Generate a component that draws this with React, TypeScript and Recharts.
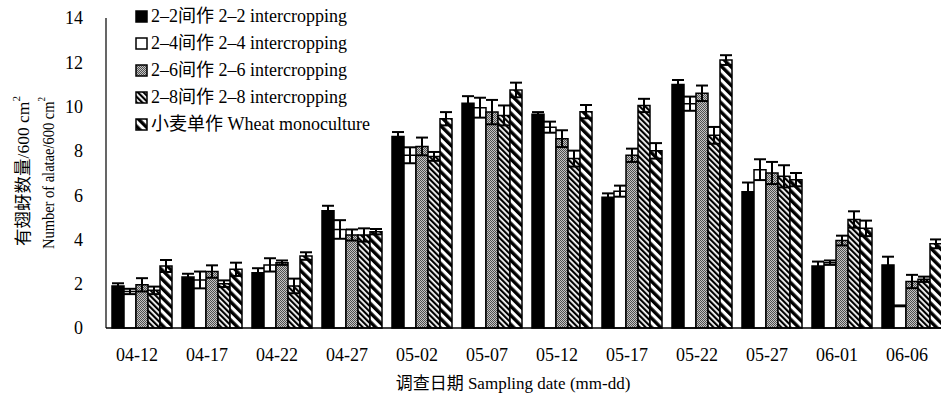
import React from 'react';
import { BarChart, Bar, XAxis, YAxis, ErrorBar, Legend } from 'recharts';

const FONT = "'Liberation Serif', 'Times New Roman', Times, 'DejaVu Serif', 'Noto Sans CJK SC', serif";

const dates = ['04-12', '04-17', '04-22', '04-27', '05-02', '05-07', '05-12', '05-17', '05-22', '05-27', '06-01', '06-06'];

const s22 = [1.9, 2.3, 2.5, 5.3, 8.65, 10.15, 9.65, 5.9, 11.0, 6.15, 2.8, 2.85];
const s22Err = [0.12, 0.15, 0.2, 0.22, 0.2, 0.32, 0.1, 0.18, 0.2, 0.42, 0.2, 0.37];
const s24 = [1.65, 2.17, 2.85, 4.45, 7.8, 9.95, 9.07, 6.18, 10.13, 7.15, 2.95, 1.0];
const s24Err = [0.12, 0.38, 0.3, 0.42, 0.36, 0.45, 0.25, 0.25, 0.32, 0.47, 0.1, 0.02];
const s26 = [1.95, 2.55, 2.95, 4.2, 8.2, 9.75, 8.55, 7.8, 10.6, 7.0, 3.95, 2.1];
const s26Err = [0.3, 0.28, 0.1, 0.25, 0.4, 0.55, 0.38, 0.3, 0.35, 0.5, 0.22, 0.3];
const s28 = [1.7, 2.0, 1.9, 4.2, 7.75, 9.6, 7.65, 10.05, 8.7, 6.85, 4.9, 2.2];
const s28Err = [0.17, 0.15, 0.33, 0.3, 0.2, 0.45, 0.36, 0.3, 0.38, 0.5, 0.37, 0.12];
const sW = [2.8, 2.65, 3.25, 4.35, 9.45, 10.75, 9.77, 8.0, 12.1, 6.7, 4.5, 3.8];
const sWErr = [0.27, 0.3, 0.17, 0.12, 0.3, 0.33, 0.3, 0.35, 0.22, 0.3, 0.35, 0.2];

const seriesNames = [
  '2–2间作 2–2 intercropping',
  '2–4间作 2–4 intercropping',
  '2–6间作 2–6 intercropping',
  '2–8间作 2–8 intercropping',
  '小麦单作 Wheat monoculture',
];

const yTicks = [0, 2, 4, 6, 8, 10, 12, 14];
const yInnerTicks = [2, 4, 6, 8, 10, 12];
const edgeTicks = [1, 2, 3, 4, 5, 6, 7, 8, 9, 10, 11];

const data = dates.map((d, i) => ({
  date: d,
  a: s22[i], aErr: s22Err[i],
  b: s24[i], bErr: s24Err[i],
  c: s26[i], cErr: s26Err[i],
  d: s28[i], dErr: s28Err[i],
  e: sW[i], eErr: sWErr[i],
}));

const keys = ['a', 'b', 'c', 'd', 'e'];
const fills = ['#000', '#fff', 'url(#pGray)', 'url(#pHatch)', 'url(#pWide)'];

const YTitle = (props: any) => {
  const vb = props.viewBox || { x: 0, y: 18, width: 106, height: 310 };
  const cy = vb.y + vb.height / 2 - 2;
  return (
    <g>
      <text transform={`translate(22.5, ${cy}) rotate(-90)`} textAnchor="middle" dominantBaseline="central" fontSize={17.5} fontFamily={FONT} fill="#000" stroke="none">
        有翅蚜数量/600 cm<tspan fontSize={11} dy={-7} fill="#000">2</tspan>
      </text>
      <text transform={`translate(47.5, ${cy + 2}) rotate(-90)`} textAnchor="middle" dominantBaseline="central" fontSize={17.5} fontFamily={FONT} fill="#000" stroke="none" textLength={152} lengthAdjust="spacingAndGlyphs">
        Number of alatae/600 cm<tspan fontSize={11} dy={-7} fill="#000">2</tspan>
      </text>
    </g>
  );
};

const XTitle = (props: any) => {
  const vb = props.viewBox || { x: 106, y: 328, width: 840, height: 68 };
  const cx = vb.x + vb.width / 2 - 13;
  return (
    <text x={cx} y={vb.y + 55} textAnchor="middle" dominantBaseline="central" fontSize={17} fontFamily={FONT} fill="#000" stroke="none">
      调查日期 Sampling date (mm-dd)
    </text>
  );
};

const renderLegend = () => (
  <div style={{ fontFamily: FONT, fontSize: 18, color: '#000', lineHeight: '27px' }}>
    {seriesNames.map((n, i) => (
      <div key={n} style={{ display: 'flex', alignItems: 'center', height: 27, whiteSpace: 'nowrap' }}>
        <svg width={13} height={13} style={{ marginRight: 3, flex: 'none' }}>
          <rect x={1} y={1} width={11} height={11} fill={fills[i]} stroke="#000" strokeWidth={1.5} />
        </svg>
        <span>{n}</span>
      </div>
    ))}
  </div>
);

export default function App() {
  return (
    <div style={{ position: 'absolute', left: 0, top: 0, width: 941, height: 396, overflow: 'hidden', background: '#fff' }}>
      <BarChart
        width={946}
        height={396}
        data={data}
        margin={{ top: 18, right: 0, left: 0, bottom: 0 }}
        barCategoryGap={6}
        barGap={0}
      >
        <defs>
          <pattern id="pGray" width="2" height="2" patternUnits="userSpaceOnUse">
            <rect width="2" height="2" fill="#c4c4c4" />
            <rect x="0" y="0" width="1" height="1" fill="#505050" />
            <rect x="1" y="1" width="1" height="1" fill="#505050" />
          </pattern>
          <pattern id="pHatch" width="4" height="4" patternUnits="userSpaceOnUse" patternTransform="rotate(-45)">
            <rect width="4" height="4" fill="#fff" />
            <rect width="2.2" height="4" fill="#000" />
          </pattern>
          <pattern id="pWide" width="6.5" height="6.5" patternUnits="userSpaceOnUse" patternTransform="rotate(-45)">
            <rect width="6.5" height="6.5" fill="#fff" />
            <rect width="3.4" height="6.5" fill="#000" />
          </pattern>
        </defs>
        <XAxis
          dataKey="date"
          interval={0}
          height={68}
          tickLine={false}
          tickSize={0}
          tickMargin={20}
          axisLine={{ stroke: '#000', strokeWidth: 1.5 }}
          tick={{ fill: '#000', fontSize: 18, fontFamily: FONT, dx: -4 }}
          label={<XTitle />}
        />
        <XAxis
          xAxisId="edge"
          type="number"
          domain={[0, 12]}
          ticks={edgeTicks}
          mirror
          tick={false}
          tickSize={5}
          tickLine={{ stroke: '#000', strokeWidth: 1 }}
          axisLine={false}
        />
        <YAxis
          domain={[0, 14]}
          ticks={yTicks}
          width={106}
          tickLine={false}
          tickSize={0}
          tickMargin={23}
          axisLine={{ stroke: '#000', strokeWidth: 1.2 }}
          tick={{ fill: '#000', fontSize: 18, fontFamily: FONT }}
          label={<YTitle />}
        />
        <YAxis
          yAxisId="inner"
          domain={[0, 14]}
          ticks={yInnerTicks}
          mirror
          tick={false}
          tickSize={7}
          tickLine={{ stroke: '#000', strokeWidth: 1 }}
          axisLine={false}
        />
        <Legend
          layout="vertical"
          align="center"
          verticalAlign="middle"
          content={renderLegend}
          wrapperStyle={{ left: 135, top: 2.5, width: 270, height: 135 }}
        />
        {keys.map((k, i) => (
          <Bar key={k} dataKey={k} name={seriesNames[i]} fill={fills[i]} stroke="#000" strokeWidth={1.5} isAnimationActive={false}>
            <ErrorBar dataKey={`${k}Err`} width={6} stroke="#000" strokeWidth={2} isAnimationActive={false} />
          </Bar>
        ))}
      </BarChart>
    </div>
  );
}
